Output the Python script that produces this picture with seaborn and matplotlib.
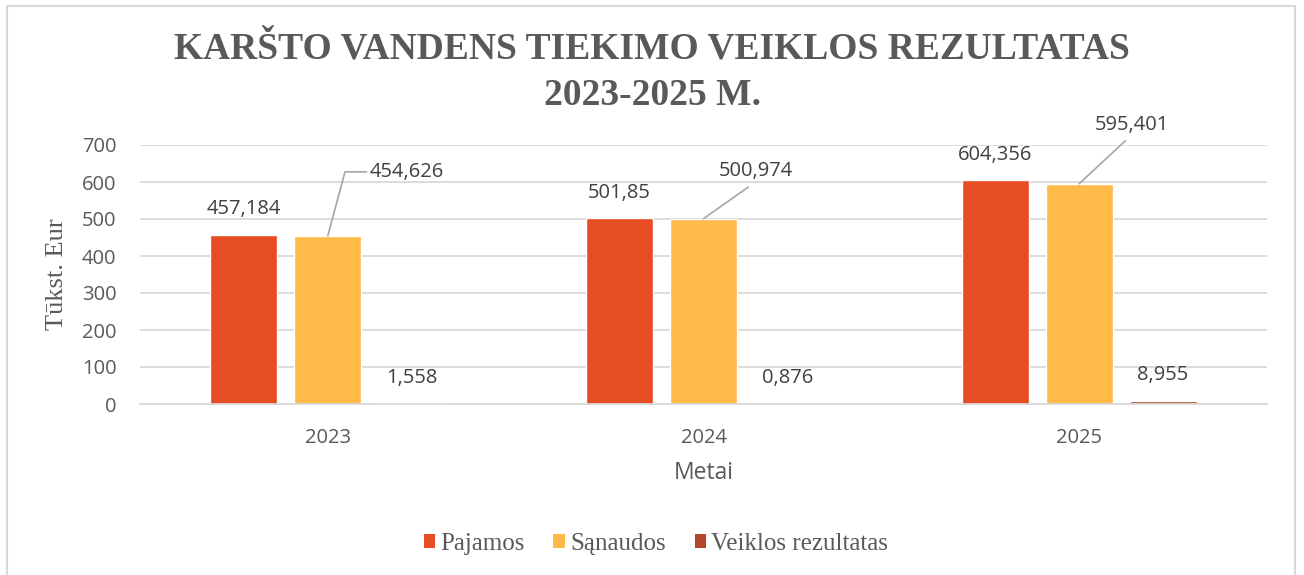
#!/usr/bin/env python3
# coding=utf-8

from matplotlib import pyplot as plt
from matplotlib.patches import Patch, Rectangle
import pandas as pd
import seaborn as sns

# duomenys (tūkst. Eur)
years = ["2023", "2024", "2025"]
series = ["Pajamos", "Sąnaudos", "Veiklos rezultatas"]
pajamos = [457.184, 501.85, 604.356]
sanaudos = [454.626, 500.974, 595.401]
rezultatas = [1.558, 0.876, 8.955]
colors = ["#E64D23", "#FFBA47", "#B4462A"]

SERIF = "Liberation Serif"
SANS = "Open Sans"
GRAY = "#595959"
DARK = "#404040"


def fmt(v: float) -> str:
    return f"{v:g}".replace(".", ",")


df = pd.DataFrame({
    "Metai": years * 3,
    "Rodiklis": [s for s in series for _ in years],
    "Vertė": pajamos + sanaudos + rezultatas,
})

sns.set_style("white")
plt.rcParams["font.family"] = [SANS, "DejaVu Sans"]

fig = plt.figure(figsize=(13.04, 5.75), dpi=100)
ax = fig.add_axes([140 / 1304, 1 - 404 / 575, 1127 / 1304, 259 / 575])

sns.barplot(data=df, x="Metai", y="Vertė", hue="Rodiklis", hue_order=series,
            palette=colors, saturation=1, width=0.67, gap=0.2,
            legend=False, ax=ax)

ax.set_ylim(0, 700)
ax.set_yticks(range(0, 701, 100))
ax.yaxis.grid(True, color="#D9D9D9", linewidth=1.3)
ax.set_axisbelow(True)
for side in ["top", "right", "left"]:
    ax.spines[side].set_visible(False)
ax.spines["bottom"].set_color("#D9D9D9")
ax.spines["bottom"].set_linewidth(1.3)
ax.tick_params(length=0, labelsize=14.5, colors=GRAY, pad=17)

ax.set_xlabel("Metai", fontsize=16.5, color=GRAY, va="center")
ax.xaxis.set_label_coords(0.5, -(473 - 404) / 259)
ax.set_ylabel("Tūkst. Eur", fontsize=19, color=GRAY, family=SERIF, va="center")
ax.yaxis.set_label_coords(-(140 - 57) / 1127, 0.5)

# duomenų žymės
paj_bars, san_bars, rez_bars = ax.containers
for bars, vals in [(paj_bars, pajamos), (rez_bars, rezultatas)]:
    for b, v in zip(bars, vals):
        ax.annotate(fmt(v), (b.get_x() + b.get_width() / 2, b.get_height()),
                    xytext=(0, 18.4), textcoords="offset points",
                    ha="center", va="center", fontsize=14.5, color=DARK)

# sąnaudų žymės su linijomis
offsets = [(57, 46), (38, 34), (38, 42.5)]
for i, (b, v) in enumerate(zip(san_bars, sanaudos)):
    xy = (b.get_x() + b.get_width() / 2, b.get_height())
    if i == 0:
        arrow = dict(arrowstyle="-", color="#A6A6A6", lw=1.2, relpos=(0, 0.5),
                     shrinkA=0, shrinkB=0,
                     connectionstyle="angle,angleA=0,angleB=75,rad=0")
    else:
        arrow = dict(arrowstyle="-", color="#A6A6A6", lw=1.2, relpos=(0.5, 0),
                     shrinkA=3, shrinkB=0)
    ax.annotate(fmt(v), xy, xytext=offsets[i], textcoords="offset points",
                ha="center", va="center", fontsize=14.5, color=DARK,
                arrowprops=arrow)

fig.text(0.5, 1 - 72.5 / 575,
         "KARŠTO VANDENS TIEKIMO VEIKLOS REZULTATAS\n2023-2025 M.",
         ha="center", va="center", fontsize=27, fontweight="bold",
         color=GRAY, family=SERIF, linespacing=1.42)

handles = [Patch(facecolor=c, edgecolor="none") for c in colors]
fig.legend(handles, series, loc="center", bbox_to_anchor=(0.503, 1 - 544 / 575),
           ncol=3, frameon=False, handlelength=0.47, handleheight=0.47,
           handletextpad=0.2, columnspacing=1.15,
           prop={"family": SERIF, "size": 18}, labelcolor=GRAY)

fig.patches.append(Rectangle((6.5 / 1304, -0.02), (1295 - 6.5) / 1304,
                             1.02 - 6 / 575, transform=fig.transFigure,
                             fill=False, edgecolor="#D9D9D9", linewidth=1.5))

fig.savefig("out.png", dpi=100)
